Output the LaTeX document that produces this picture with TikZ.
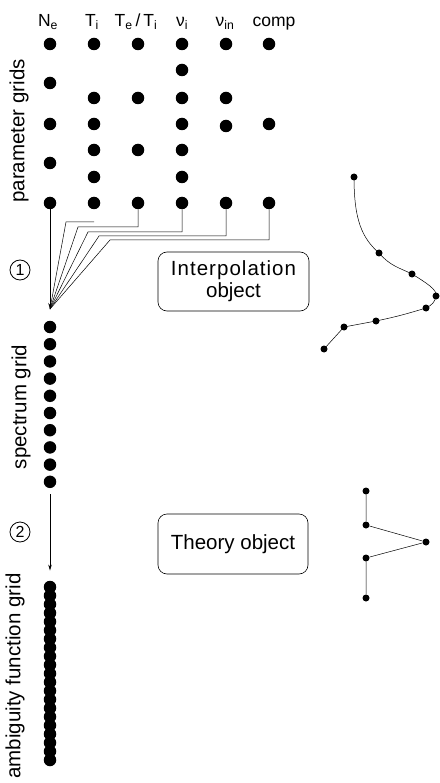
\documentclass[tikz,border=0pt]{standalone}
\usepackage{fontspec}
\setmainfont{Liberation Sans}
\newfontfamily\spacedfont[LetterSpace=5]{Liberation Sans}
\newcommand\hdrfont{\fontsize{17.5}{20}\selectfont}
\newcommand\objfont{\fontsize{20.5}{22}\selectfont}
\newcommand\sidefont{\fontsize{20.5}{22}\selectfont}
\usetikzlibrary{arrows.meta,positioning}

\begin{document}
\begin{tikzpicture}[
  x=1pt, y=-1pt,
  gdot/.style={circle, fill=black, inner sep=0pt, minimum size=12.5pt},
  sdot/.style={circle, fill=black, inner sep=0pt, minimum size=7pt},
  objbox/.style={
    rectangle, rounded corners=9pt,
    draw=black, line width=0.6pt,
    minimum width=151pt, minimum height=59pt,
    font=\objfont, align=center, inner sep=2pt
  },
  hdr/.style={font=\hdrfont, anchor=base},
  sidelabel/.style={font=\sidefont, rotate=90},
  stepmark/.style={circle, draw=black, line width=0.8pt, inner sep=0pt, minimum size=20pt, font=\fontsize{16}{16}\selectfont},
  conn/.style={-{Stealth[length=6pt, width=3.5pt]}, line width=0.5pt},
  wire/.style={line width=0.5pt}
]
\useasboundingbox (0,0) rectangle (439,783);

\foreach \col/\x/\ys in {ne/50/{44,83,124,163,203}, ti/94/{44,98,124,150,177,203},
    tt/138/{44,98,150,203}, vi/182/{44,70,98,124,150,177,203},
    vin/226/{44,98,126,203}, comp/269/{44,124,203}}
  \foreach \y in \ys
    \node[gdot] (\col-\y) at (\x,\y) {};

\node[hdr] (hne)   at (48,27)  {N\textsubscript{e}};
\node[hdr] (hti)   at (92,27)  {T\textsubscript{i}};
\node[hdr] (htt)   at (136,27) {T\textsubscript{e}\,/\,T\textsubscript{i}};
\node[hdr] (hvi)   at (182,27) {ν\textsubscript{i}};
\node[hdr] (hvin)  at (225,27) {ν\textsubscript{in}};
\node[hdr] (hcomp) at (274,27) {comp};

\node[sidelabel] (lpar) at (19,131) {parameter grids};

\coordinate (tip) at (50,309);
\draw[conn] (ne-203) -- (tip);
\draw[wire] ([yshift=-19pt]ti-203.center) -- ++(-28,0) -- (tip);
\draw[wire] (tt-203) -- ++(0,24) -- ++(-60,0) -- (tip);
\draw[wire] (vi-203) -- ++(0,29) -- ++(-94,0) -- (tip);
\draw[wire] (vin-203) -- ++(0,33) -- ++(-127,0) -- (tip);
\draw[wire] (comp-203) -- ++(0,37) -- ++(-159,0) -- (tip);

\node[stepmark] (one) at (20,270) {1};
\node[objbox] (interp) at (233.5,281.5) {{\spacedfont Interpolation}\\object};

\foreach \i in {0,...,9}
  \node[gdot] (sp-\i) at (50,{327+17.2*\i}) {};
\node[sidelabel] (lspec) at (21,407) {spectrum grid};

\foreach \i in {0,...,20}
  \node[gdot] (amb-\i) at (50,{587+8.65*\i}) {};
\node[sidelabel] (lamb) at (15,676) {ambiguity function grid};

\draw[conn, shorten <=6pt, shorten >=10pt] (sp-9) -- (amb-0);
\node[stepmark] (two) at (20,532) {2};
\node[objbox, minimum width=150pt, minimum height=60pt] (theory) at (233,544) {Theory object};

\node[sdot] (c1) at (354,177) {};
\node[sdot] (c2) at (379,253) {};
\node[sdot] (c3) at (412,274) {};
\node[sdot] (c4) at (436,296) {};
\node[sdot] (c5) at (426,308) {};
\node[sdot] (c6) at (376,321) {};
\node[sdot] (c7) at (344,327) {};
\node[sdot] (c8) at (324,349) {};
\draw[wire] (c1.center) .. controls (354,220) and (362,238) .. (c2.center)
  .. controls (390,266) and (400,268) .. (c3.center)
  .. controls (425,282) and (438,290) .. (c4.center)
  .. controls (435,302) and (432,305) .. (c5.center)
  .. controls (400,316) and (390,318) .. (c6.center)
  -- (c7.center) -- (c8.center);

\node[sdot] (t1) at (366,491) {};
\node[sdot] (t2) at (366,525) {};
\node[sdot] (t3) at (426,542) {};
\node[sdot] (t4) at (366,558) {};
\node[sdot] (t5) at (366,598) {};
\draw[wire] (t1) -- (t2) -- (t3) -- (t4) -- (t5);
\end{tikzpicture}
\end{document}
